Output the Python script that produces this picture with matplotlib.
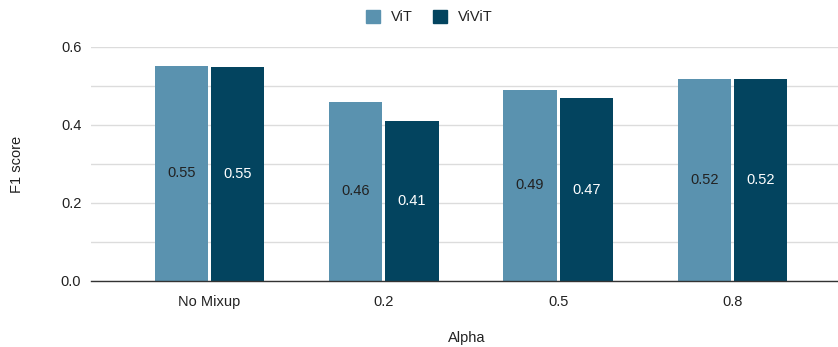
import numpy as np
import matplotlib
matplotlib.use("Agg")
import matplotlib.pyplot as plt
from matplotlib.patches import Patch

plt.rcParams['font.family'] = ['Liberation Sans', 'DejaVu Sans']

# data
categories = ["No Mixup", "0.2", "0.5", "0.8"]
vit_scores = [0.552, 0.460, 0.491, 0.518]
vivit_scores = [0.549, 0.409, 0.469, 0.517]
series_names = ["ViT", "ViViT"]
y_ticks = [0.0, 0.2, 0.4, 0.6]

vit_color = "#5a92af"
vivit_color = "#03445f"

fig = plt.figure(figsize=(8.38, 3.47), dpi=100)
ax = fig.add_axes([91 / 838, 1 - 281 / 347, 1 - 91 / 838, (281 - 47) / 347])

x = np.arange(len(categories))
bar_w = 0.306
off = 0.161

b1 = ax.bar(x - off, vit_scores, bar_w, color=vit_color, zorder=3)
b2 = ax.bar(x + off, vivit_scores, bar_w, color=vivit_color, zorder=3)

# value labels in the middle of each bar
for bars, vals, tc in ((b1, vit_scores, "#222222"), (b2, vivit_scores, "white")):
    for rect, v in zip(bars, vals):
        ax.text(rect.get_x() + rect.get_width() / 2, v / 2, "%.2f" % v,
                ha="center", va="center", fontsize=10.5, color=tc, zorder=4)

ax.set_xlim(-0.678, 3.604)
ax.set_ylim(0, 0.6)
ax.set_yticks(y_ticks)
ax.set_yticklabels(["%.1f" % t for t in y_ticks])
ax.set_yticks(np.arange(0.1, 0.6, 0.2), minor=True)
ax.set_xticks(x)
ax.set_xticklabels(categories)

ax.grid(axis="y", which="both", color="#dcdcdc", linewidth=1, zorder=0)
for s in ("top", "right", "left"):
    ax.spines[s].set_visible(False)
ax.spines["bottom"].set_color("#333333")
ax.spines["bottom"].set_linewidth(1)
ax.spines["bottom"].set_zorder(5)

ax.tick_params(axis="both", which="both", length=0, labelsize=10.5, labelcolor="#222222")
ax.tick_params(axis="y", pad=7)
ax.tick_params(axis="x", pad=10)

ax.set_ylabel("F1 score", fontsize=10.5, color="#222222", va="center")
ax.yaxis.set_label_coords(-74 / 747, 0.5)
ax.set_xlabel("Alpha", fontsize=10.5, color="#222222", va="center")
ax.xaxis.set_label_coords(0.503, -57 / 234)

handles = [Patch(facecolor=vit_color, edgecolor=vit_color),
           Patch(facecolor=vivit_color, edgecolor=vivit_color)]
fig.legend(handles, series_names, loc="upper center", bbox_to_anchor=(0.512, 1.01),
           ncol=2, frameon=False, fontsize=10.5, handlelength=1.0, handleheight=1.0,
           columnspacing=1.4, handletextpad=0.7, labelcolor="#222222")

fig.savefig("out.png", dpi=100)
